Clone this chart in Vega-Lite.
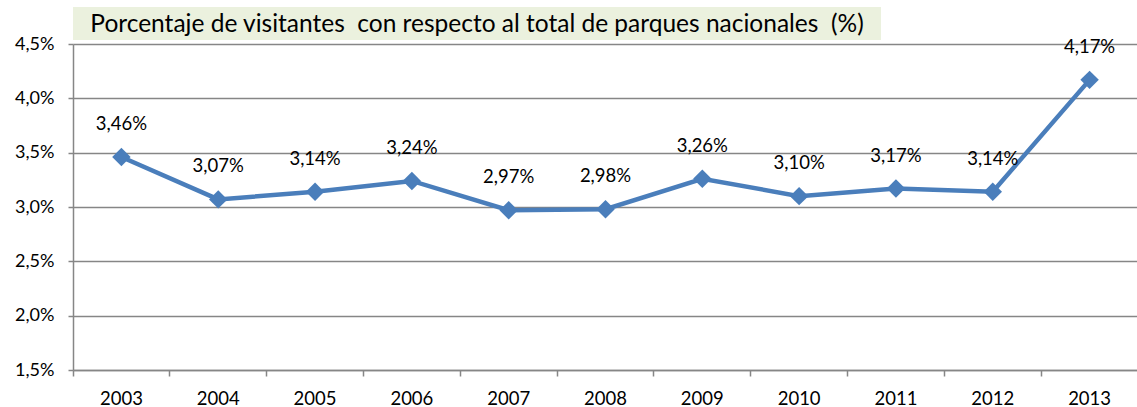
{
  "$schema": "https://vega.github.io/schema/vega-lite/v6.json",
  "padding": {"left": 14, "top": 7, "right": 0, "bottom": 0},
  "background": "white",
  "config": {
    "font": "Lato",
    "locale": {"number": {"decimal": ",", "thousands": ".", "grouping": [3], "currency": ["", " €"]}},
    "view": {"stroke": null}
  },
  "bounds": "flush",
  "spacing": 4,
  "vconcat": [
    {
      "width": 808,
      "height": 33,
      "view": {"fill": "#EBF1DE", "stroke": null},
      "data": {"values": [{"t": "Porcentaje de visitantes \u00a0con respecto al total de parques nacionales \u00a0(%)"}]},
      "mark": {"type": "text", "fontSize": 24.5, "color": "#000000", "font": "Lato", "align": "center", "baseline": "middle", "dy": 1},
      "encoding": {"text": {"field": "t", "type": "nominal"}}
    },
    {
      "width": 1065,
      "height": 326,
      "data": {"values": [
        {"year": "2003", "pct": 0.0346},
        {"year": "2004", "pct": 0.0307},
        {"year": "2005", "pct": 0.0314},
        {"year": "2006", "pct": 0.0324},
        {"year": "2007", "pct": 0.0297},
        {"year": "2008", "pct": 0.0298},
        {"year": "2009", "pct": 0.0326},
        {"year": "2010", "pct": 0.0310},
        {"year": "2011", "pct": 0.0317},
        {"year": "2012", "pct": 0.0314},
        {"year": "2013", "pct": 0.0417}
      ]},
      "encoding": {
        "x": {
          "field": "year", "type": "ordinal",
          "scale": {"type": "band", "paddingInner": 0, "paddingOuter": 0},
          "axis": {
            "title": null, "labelAngle": 0, "bandPosition": 0,
            "labelFontSize": 18.5, "labelColor": "#000000", "labelPadding": 13,
            "tickColor": "#868686", "tickSize": 6, "tickWidth": 1.5,
            "domainColor": "#868686", "domainWidth": 1.5, "grid": false
          }
        },
        "y": {
          "field": "pct", "type": "quantitative",
          "scale": {"domain": [0.015, 0.045], "nice": false, "zero": false},
          "axis": {
            "title": null, "format": ".1%",
            "values": [0.015, 0.02, 0.025, 0.03, 0.035, 0.04, 0.045],
            "labelFontSize": 18, "labelColor": "#000000", "labelPadding": 14,
            "tickColor": "#868686", "tickSize": 5, "tickWidth": 1.5,
            "domainColor": "#868686", "domainWidth": 1.5,
            "grid": true, "gridColor": "#868686", "gridWidth": 1.5
          }
        }
      },
      "layer": [
        {"mark": {"type": "line", "color": "#4A7EBB", "strokeWidth": 4.5}},
        {"mark": {"type": "point", "shape": "diamond", "filled": true, "color": "#4A7EBB", "size": 340, "opacity": 1}},
        {
          "mark": {"type": "text", "dy": -33, "fontSize": 18.5, "color": "#000000"},
          "encoding": {"text": {"field": "pct", "type": "quantitative", "format": ".2%"}}
        }
      ]
    }
  ]
}
